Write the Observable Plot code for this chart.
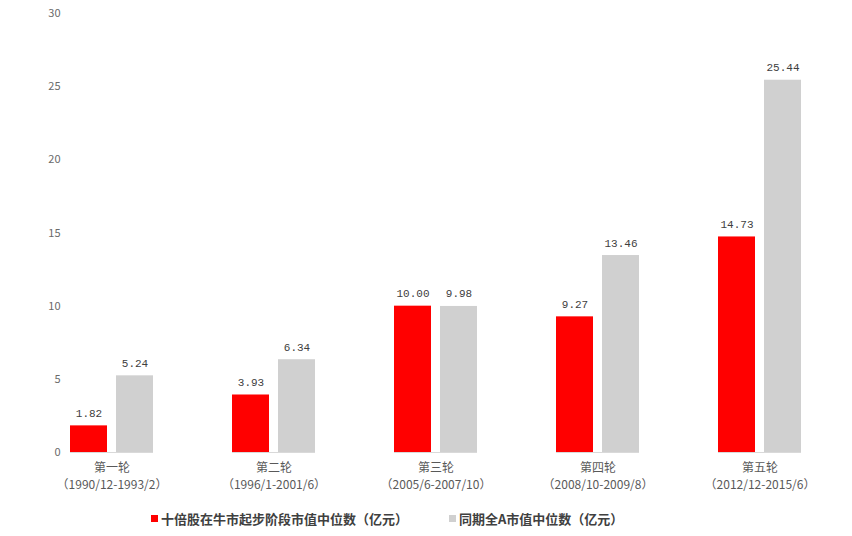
<!DOCTYPE html>
<html><head><meta charset="utf-8">
<script src="https://cdn.jsdelivr.net/npm/d3@7"></script>
<script src="https://cdn.jsdelivr.net/npm/@observablehq/plot@0.6"></script>
<style>
body{margin:0;background:#fff;font-family:"Noto Sans CJK SC",sans-serif;}
#legend{display:flex;align-items:center;height:36px;margin-left:151px;font-weight:bold;font-size:13px;color:#404040;}
#legend span.sw{display:inline-block;width:7px;height:7px;margin-right:3px;}
#legend .item{display:flex;align-items:center;margin-right:41px;}
</style></head>
<body><div id="chart"></div>
<div id="legend"></div>
<script>
const rounds = ["第一轮","第二轮","第三轮","第四轮","第五轮"];
const periods = ["（1990/12-1993/2）","（1996/1-2001/6）","（2005/6-2007/10）","（2008/10-2009/8）","（2012/12-2015/6）"];
const seriesNames = ["十倍股在牛市起步阶段市值中位数（亿元）","同期全A市值中位数（亿元）"];
const tenBagger = [1.82, 3.93, 10.00, 9.27, 14.73];
const allA = [5.24, 6.34, 9.98, 13.46, 25.44];
const colors = ["#ff0000","#d0d0d0"];
const yTicks = [0,5,10,15,20,25,30];

const data = [];
rounds.forEach((r,i)=>{
  data.push({round:r, series:seriesNames[0], value:tenBagger[i]});
  data.push({round:r, series:seriesNames[1], value:allA[i]});
});
const periodOf = Object.fromEntries(rounds.map((r,i)=>[r,periods[i]]));

const chart = Plot.plot({
  width: 852, height: 500,
  marginTop: 13, marginBottom: 48, marginLeft: 30, marginRight: 12,
  style: {fontFamily: '"Noto Sans CJK SC", sans-serif', background: "#fff"},
  fx: {domain: rounds, paddingInner: 0.488, paddingOuter: 0.244, label: null},
  x: {domain: seriesNames, paddingInner: 0.196, paddingOuter: 0, axis: null},
  y: {domain: [0,30], label: null},
  color: {domain: seriesNames, range: colors},
  marks: [
    Plot.axisY({ticks: yTicks, tickSize: 0, tickPadding: 10, fontSize: 11, color: "#6a6a6a", label: null}),
    Plot.axisFx({anchor: "bottom", tickSize: 0, tickPadding: 11, fontSize: 12, color: "#595959", lineAnchor: "top", label: null}),
    Plot.axisFx({anchor: "bottom", tickSize: 0, tickPadding: 28, fontSize: 12, color: "#595959", lineAnchor: "top", label: null, tickFormat: d => periodOf[d]}),
    Plot.barY(data, {fx: "round", x: "series", y: "value", fill: "series"}),
    Plot.text(data, {fx: "round", x: "series", y: "value", text: d => d.value.toFixed(2), lineAnchor: "bottom", dy: -9, fontSize: 11, fill: "#404040", fontFamily: '"Liberation Mono", monospace'}),
    Plot.ruleY([0], {stroke: "#d9d9d9"})
  ]
});
document.getElementById("chart").appendChild(chart);

const legend = document.getElementById("legend");
seriesNames.forEach((s,i)=>{
  const item = document.createElement("div");
  item.className = "item";
  const sw = document.createElement("span");
  sw.className = "sw"; sw.style.background = colors[i];
  item.appendChild(sw);
  item.appendChild(document.createTextNode(s));
  legend.appendChild(item);
});
</script>
</body></html>
